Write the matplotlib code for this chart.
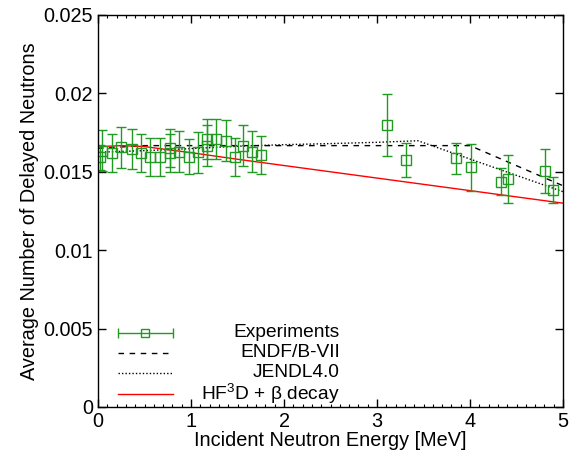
import numpy as np
import matplotlib
matplotlib.use("Agg")
import matplotlib.pyplot as plt
from matplotlib.ticker import MultipleLocator

plt.rcParams['font.family'] = ['Liberation Sans', 'DejaVu Sans']
plt.rcParams['mathtext.fontset'] = 'custom'
plt.rcParams['mathtext.rm'] = 'Liberation Sans'

# experimental data (energy in MeV, value, error)
exp_e = [0.025, 0.043, 0.15, 0.25, 0.366, 0.462, 0.562, 0.67, 0.771, 0.771,
         0.874, 0.975, 1.075, 1.169, 1.169, 1.272, 1.373, 1.473, 1.562, 1.653,
         1.753, 3.104, 3.309, 3.849, 4.008, 4.33, 4.405, 4.806, 4.889]
exp_v = [0.01592, 0.01635, 0.01618, 0.01656, 0.01645, 0.01618, 0.01596, 0.01596, 0.01650, 0.01618,
         0.01628, 0.01596, 0.01624, 0.01667, 0.01709, 0.01709, 0.01698, 0.01596, 0.01667, 0.01628,
         0.01607, 0.01798, 0.01575, 0.01586, 0.01529, 0.01437, 0.01454, 0.01505, 0.01384]
exp_err = [0.0008, 0.0013, 0.0012, 0.0013, 0.0013, 0.0012, 0.0012, 0.0012, 0.0012, 0.0012,
           0.0013, 0.0011, 0.0013, 0.0013, 0.0013, 0.0013, 0.0013, 0.0012, 0.0013, 0.0013,
           0.0012, 0.0020, 0.00107, 0.0010, 0.0015, 0.00087, 0.0015, 0.0014, 0.00085]

# ENDF/B-VII
endf_e = [0.0, 0.5, 4.0, 5.0]
endf_v = [0.01650, 0.01667, 0.01667, 0.01411]

# JENDL4.0
jendl_e = [0.0, 0.5, 1.0, 1.5, 2.0, 2.5, 3.0, 3.44, 5.0]
jendl_v = [0.01625, 0.01635, 0.01648, 0.01663, 0.01673, 0.01680, 0.01688, 0.01698, 0.01373]

# HF3D + beta decay
hf_e = [0.0, 0.25, 0.5, 0.75, 1.0, 1.5, 2.0, 2.5, 3.0, 3.5, 4.0, 4.5, 5.0]
hf_v = [0.01660, 0.01667, 0.01661, 0.01641, 0.01622, 0.01580, 0.01540, 0.01500,
        0.01460, 0.01420, 0.01380, 0.01340, 0.01300]

green = '#229922'
fs = 14.3

fig = plt.figure(figsize=(5.79, 4.57), dpi=100)
ax = fig.add_axes([98/579, 1-407/457, 465/579, 392/457])

ax.plot(endf_e, endf_v, color='black', lw=1, ls=(0, (4, 4)))
ax.plot(jendl_e, jendl_v, color='black', lw=1, ls=(0, (1, 1.5)))
ax.plot(hf_e, hf_v, color='red', lw=1)
ax.errorbar(exp_e, exp_v, yerr=exp_err, fmt='s', ms=6.5, mfc='none', mec=green,
            mew=1, ecolor=green, elinewidth=1, capsize=3.5, capthick=1)

ax.set_xlim(0, 5)
ax.set_ylim(0, 0.025)
ax.set_xticks([0, 1, 2, 3, 4, 5])
ax.set_yticks([0, 0.005, 0.01, 0.015, 0.02, 0.025])
ax.set_yticklabels(['0', '0.005', '0.01', '0.015', '0.02', '0.025'])
ax.xaxis.set_minor_locator(MultipleLocator(0.1))
ax.tick_params(which='both', direction='in', top=True, right=True, labelsize=fs)
ax.tick_params(which='major', length=5.5, width=1)
ax.tick_params(which='minor', length=2.5, width=0.8)
for s in ax.spines.values():
    s.set_linewidth(1)

ax.set_xlabel('Incident Neutron Energy [MeV]', fontsize=fs, labelpad=0)
ax.set_ylabel('Average Number of Delayed Neutrons', fontsize=fs, labelpad=3)

# legend drawn gnuplot style: sample on the left, text right-aligned
x0, x1, xt = 0.043, 0.161, 0.520
rows = [0.190, 0.138, 0.087, 0.033]
ax.errorbar([(x0 + x1) / 2], [rows[0]], xerr=[(x1 - x0) / 2], fmt='s', ms=6, mfc='none',
            mec=green, mew=1, ecolor=green, elinewidth=1, capsize=3.5, capthick=1,
            transform=ax.transAxes)
ax.plot([x0, x1], [rows[1]] * 2, color='black', lw=1, ls=(0, (4, 4)), transform=ax.transAxes)
ax.plot([x0, x1], [rows[2]] * 2, color='black', lw=1, ls=(0, (1, 1.5)), transform=ax.transAxes)
ax.plot([x0, x1], [rows[3]] * 2, color='red', lw=1, transform=ax.transAxes)
labels = ['Experiments', 'ENDF/B-VII', 'JENDL4.0', 'HF$^3$D + \u03b2 decay']
for yy, lab in zip(rows, labels):
    ax.text(xt, yy, lab, transform=ax.transAxes, ha='right', va='center', fontsize=13.8)

fig.savefig('out.png', dpi=100)
